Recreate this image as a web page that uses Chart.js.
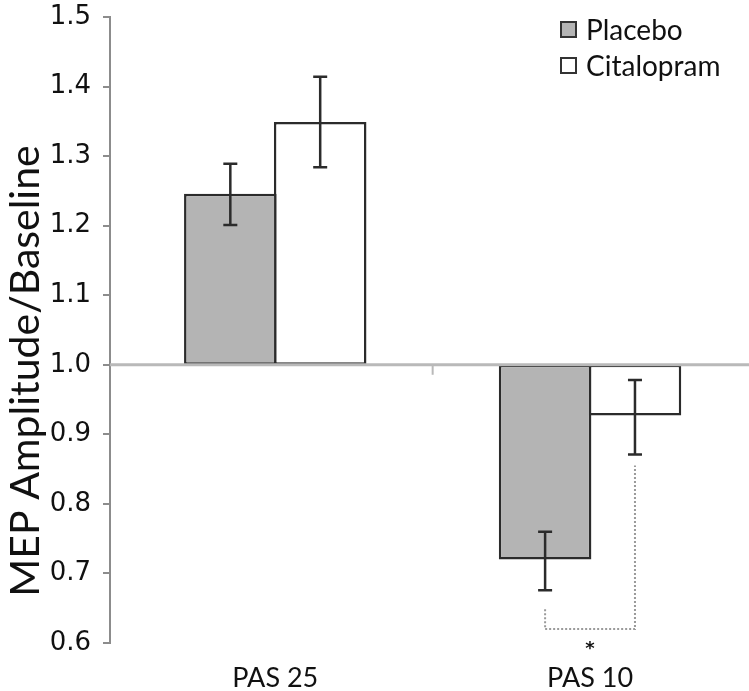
<!DOCTYPE html>
<html>
<head>
<meta charset="utf-8">
<script src="https://cdn.jsdelivr.net/npm/chart.js@4"></script>
<style>
    html, body { margin: 0; padding: 0; background: #fff; }
    #wrap { width: 749px; height: 691px; }
</style>
</head>
<body>
<div id="wrap"><canvas id="chart"></canvas></div>
<script>
// Data
const categories = ['PAS 25', 'PAS 10'];
const seriesNames = ['Placebo', 'Citalopram'];
const placeboMean = [1.246, 0.720];
const placeboLow = [1.201, 0.676];
const placeboHigh = [1.289, 0.760];
const citalopramMean = [1.349, 0.927];
const citalopramLow = [1.284, 0.871];
const citalopramHigh = [1.414, 0.978];
const baseline = 1.0;
const yTicks = [0.6, 0.7, 0.8, 0.9, 1.0, 1.1, 1.2, 1.3, 1.4, 1.5];
const yTitle = 'MEP Amplitude/Baseline';

const fills = ['#b4b4b4', '#ffffff'];
const edge = '#2b2b2b';

function toBars(means) {
    return means.map((m, i) => ({ x: i, y: [baseline, m] }));
}

// error bars, baseline, divider tick, significance bracket, legend, axis title
const overlay = {
    id: 'overlay',
    afterDatasetsDraw(chart) {
        const ctx = chart.ctx;
        const x = chart.scales.x, y = chart.scales.y;
        const area = chart.chartArea;
        const lows = [placeboLow, citalopramLow];
        const highs = [placeboHigh, citalopramHigh];

        ctx.save();
        // baseline at 1.0
        const by = y.getPixelForValue(baseline);
        ctx.strokeStyle = '#b9b9b9';
        ctx.lineWidth = 3;
        ctx.beginPath();
        ctx.moveTo(area.left, by);
        ctx.lineTo(area.right, by);
        ctx.stroke();
        // tick between the categories
        const dx = x.getPixelForValue(0.5);
        ctx.lineWidth = 2;
        ctx.beginPath();
        ctx.moveTo(dx, by);
        ctx.lineTo(dx, by + 10);
        ctx.stroke();

        // error bars
        ctx.strokeStyle = '#2b2b2b';
        ctx.lineWidth = 2.5;
        chart.data.datasets.forEach((ds, d) => {
            const meta = chart.getDatasetMeta(d);
            meta.data.forEach((bar, i) => {
                const yl = y.getPixelForValue(lows[d][i]);
                const yh = y.getPixelForValue(highs[d][i]);
                ctx.beginPath();
                ctx.moveTo(bar.x, yl); ctx.lineTo(bar.x, yh);
                ctx.moveTo(bar.x - 7, yl); ctx.lineTo(bar.x + 7, yl);
                ctx.moveTo(bar.x - 7, yh); ctx.lineTo(bar.x + 7, yh);
                ctx.stroke();
            });
        });

        // significance bracket for PAS 10
        const p = chart.getDatasetMeta(0).data[1];
        const c = chart.getDatasetMeta(1).data[1];
        const bottom = y.getPixelForValue(0.62);
        ctx.strokeStyle = '#9a9a9a';
        ctx.lineWidth = 2;
        ctx.setLineDash([2, 2]);
        ctx.beginPath();
        ctx.moveTo(p.x, y.getPixelForValue(placeboLow[1]) + 19);
        ctx.lineTo(p.x, bottom);
        ctx.lineTo(c.x, bottom);
        ctx.lineTo(c.x, y.getPixelForValue(citalopramLow[1]) + 11);
        ctx.stroke();
        ctx.setLineDash([]);
        ctx.fillStyle = '#111';
        ctx.font = 'bold 18px "DejaVu Sans"';
        ctx.textAlign = 'center';
        ctx.textBaseline = 'middle';
        ctx.fillText('*', (p.x + c.x) / 2, bottom + 20);

        // legend
        ctx.font = '28px Lato';
        ctx.textAlign = 'left';
        seriesNames.forEach((name, k) => {
            const ly = 30 + k * 36;
            ctx.fillStyle = fills[k];
            ctx.fillRect(561, ly - 8, 15, 15);
            ctx.strokeStyle = '#333';
            ctx.lineWidth = 2;
            ctx.strokeRect(561, ly - 8, 15, 15);
            ctx.fillStyle = '#111';
            ctx.fillText(name, 586, ly + 1);
        });

        // y axis title
        ctx.translate(26, 371);
        ctx.rotate(-Math.PI / 2);
        ctx.font = '41px Lato';
        ctx.textAlign = 'center';
        ctx.fillStyle = '#111';
        ctx.fillText(yTitle, 0, 0);
        ctx.restore();
    }
};

new Chart(document.getElementById('chart'), {
    type: 'bar',
    data: {
        datasets: [
            { label: seriesNames[0], data: toBars(placeboMean), backgroundColor: fills[0],
              borderColor: edge, borderWidth: 2.5, borderSkipped: false },
            { label: seriesNames[1], data: toBars(citalopramMean), backgroundColor: fills[1],
              borderColor: edge, borderWidth: 2.5, borderSkipped: false }
        ]
    },
    options: {
        responsive: true,
        maintainAspectRatio: false,
        animation: false,
        categoryPercentage: 0.571,
        barPercentage: 1.03,
        layout: { padding: { top: 17, right: 0, left: 0, bottom: 0 } },
        plugins: { legend: { display: false }, tooltip: { enabled: false } },
        scales: {
            x: {
                type: 'linear',
                offset: false,
                min: -0.525,
                max: 1.505,
                grid: { display: false },
                border: { display: false },
                afterBuildTicks(scale) { scale.ticks = categories.map((_, i) => ({ value: i })); },
                afterFit(scale) { scale.height = 48; scale.paddingLeft = 0; scale.paddingRight = 0; },
                ticks: {
                    padding: 11,
                    color: '#111',
                    font: { family: 'Lato', size: 27 },
                    callback: v => categories[v]
                }
            },
            y: {
                min: 0.6,
                max: 1.5,
                afterBuildTicks(scale) { scale.ticks = yTicks.map(v => ({ value: v })); },
                afterFit(scale) { scale.width = 110; scale.paddingTop = 0; scale.paddingBottom = 0; },
                grid: { drawOnChartArea: false, drawTicks: true, tickLength: 7, color: '#8c8c8c', lineWidth: 2 },
                border: { color: '#8c8c8c', width: 2 },
                ticks: {
                    padding: 12,
                    color: '#111',
                    font: { family: 'DejaVu Sans', size: 26, lineHeight: 1 },
                    callback: v => v.toFixed(1)
                }
            }
        }
    },
    plugins: [overlay]
});
</script>
</body>
</html>
